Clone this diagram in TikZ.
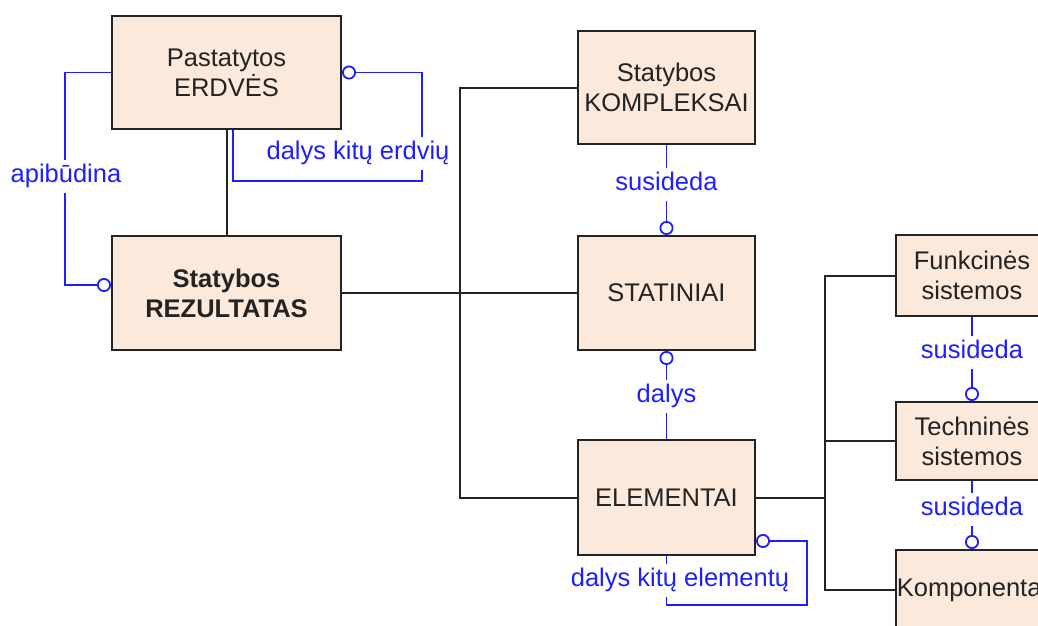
\documentclass[tikz,border=0pt]{standalone}
\usepackage{fontspec}
\setmainfont{Liberation Sans}
\usetikzlibrary{arrows.meta}
\definecolor{boxfill}{RGB}{251,233,219}
\definecolor{relblue}{RGB}{30,30,255}
\definecolor{ink}{RGB}{35,35,35}
\tikzset{ring/.tip={Circle[length=14pt, width=14pt, fill=white]}}

\begin{document}
\begin{tikzpicture}[x=1pt, y=-1pt,
  entity/.style={draw=ink, line width=2pt, fill=boxfill, align=center,
    inner sep=0pt, text=ink, font=\fontsize{25.5}{30}\selectfont},
  link/.style={draw=ink, line width=2pt},
  rel/.style={draw=relblue, line width=1.8pt},
  lbl/.style={fill=white, text=relblue, inner xsep=2pt, inner ysep=3.75pt,
    text height=19pt, text depth=6.5pt, font=\fontsize{25.5}{30}\selectfont}
]
\useasboundingbox (0,0) rectangle (1038,626);
\clip (0,0) rectangle (1038,626);

% entities
\node[entity, minimum width=229pt, minimum height=113pt] (erd) at (226.5,72.5) {Pastatytos\\ERDVĖS};
\node[entity, minimum width=229pt, minimum height=114pt, font=\fontsize{25.5}{30}\selectfont\bfseries] (rez) at (226.5,293) {Statybos\\REZULTATAS};
\node[entity, minimum width=177pt, minimum height=113pt] (komp) at (666.5,87.5) {Statybos\\KOMPLEKSAI};
\node[entity, minimum width=177pt, minimum height=114pt] (stat) at (666.5,293) {STATINIAI};
\node[entity, minimum width=177pt, minimum height=115pt] (elem) at (666.5,497.5) {ELEMENTAI};
\node[entity, minimum width=152pt, minimum height=81pt] (funk) at (972,275.5) {Funkcinės\\sistemos};
\node[entity, minimum width=152pt, minimum height=78pt] (tech) at (972,441) {Techninės\\sistemos};
\node[entity, minimum width=152pt, minimum height=80pt] (kompo) at (972,590) {Komponentai};

% structural links
\coordinate (bus) at (460,293);
\coordinate (rbus) at (825,497.5);
\draw[link] (erd) -- (rez);
\draw[link] (rez) -- (stat);
\draw[link] (komp.west) -| (bus) |- (elem.west);
\draw[link] (elem.east) -- (rbus);
\draw[link] (funk.west) -| (rbus) |- (kompo.west);
\draw[link] (rbus |- tech.west) -- (tech.west);

% relations
\coordinate (apiCorner) at (65,72.5);
\coordinate (erdLoop) at (422,181);
\coordinate (elLoop) at (807,605);
\draw[rel, -{ring}] (erd.west) -- (apiCorner) |- ([yshift=8pt]rez.west);
\draw[rel, {ring}-] (erd.east) -| (erdLoop) -| ([xshift=6.5pt]erd.south);
\draw[rel, -{ring}] (komp) -- (stat);
\draw[rel, {ring}-] (stat) -- (elem);
\draw[rel, {ring}-] ([yshift=-43.5pt]elem.east) -| (elLoop) -| (elem.south);
\draw[rel, -{ring}] (funk) -- (tech);
\draw[rel, -{ring}] (tech) -- (kompo);

% relation labels
\node[lbl] (lApi) at (66,176.5) {apibūdina};
\node[lbl] (lErd) at (358,153) {dalys kitų erdvių};
\node[lbl] (lSus1) at (666.5,184) {susideda};
\node[lbl] (lDal) at (666.5,396) {dalys};
\node[lbl] (lEl) at (680,580) {dalys kitų elementų};
\node[lbl] (lSus2) at (972,352) {susideda};
\node[lbl] (lSus3) at (972,509) {susideda};
\end{tikzpicture}
\end{document}
